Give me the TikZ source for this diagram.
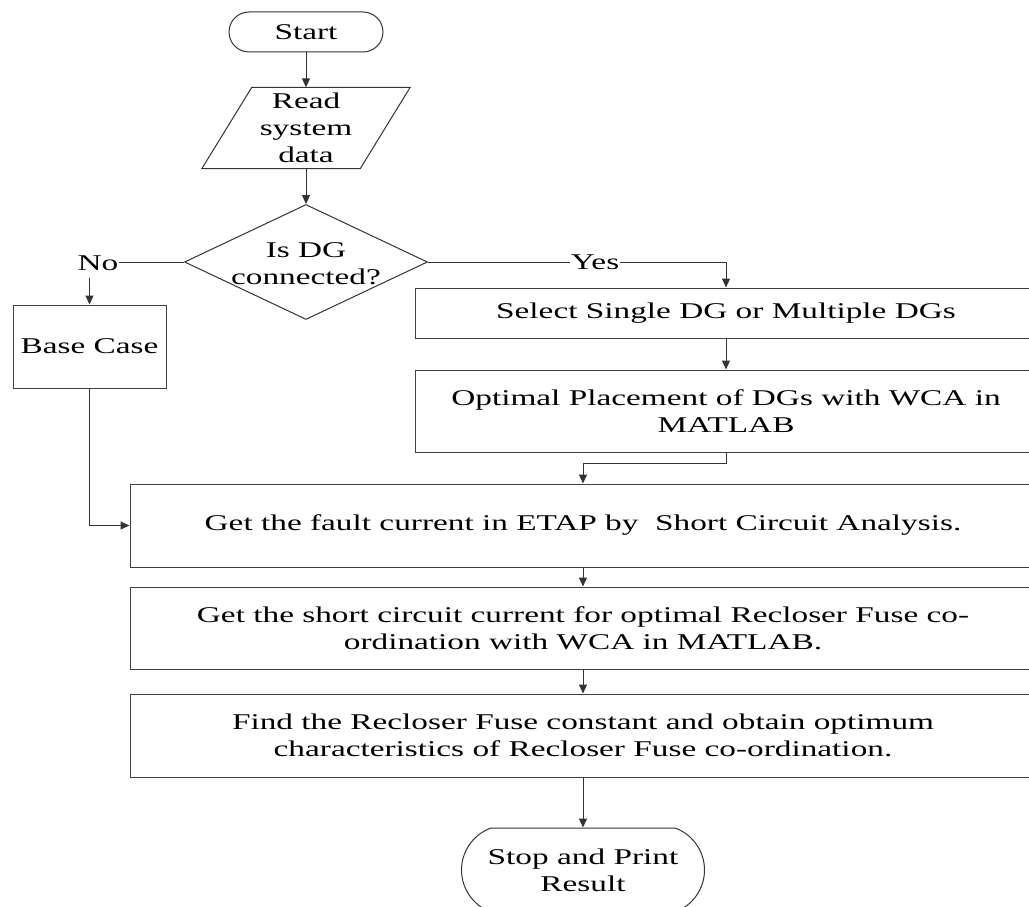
\documentclass[tikz,border=0pt]{standalone}
\usepackage{fontspec}
\setmainfont{Liberation Serif}[FakeStretch=1.48]
\usetikzlibrary{shapes.geometric,shapes.misc,arrows.meta}
\begin{document}
\begin{tikzpicture}[x=1pt,y=-1pt,
  every node/.style={font=\fontsize{22.5}{27}\selectfont, text=black},
  line/.style={draw=black!80, line width=1pt},
  arrow/.style={line, -{Triangle[length=9pt,width=8pt]}},
  procbox/.style={rectangle, draw=black!75, line width=1pt, inner sep=0pt, align=center},
  term/.style={rounded rectangle, draw=black!80, line width=1pt, inner sep=0pt, align=center},
  txt/.style={align=center, inner sep=0pt}]
\useasboundingbox (0,0) rectangle (1029,907);

% terminals, input and decision
\node[term, minimum width=154, minimum height=40] (start) at (306,32) {Start};
\node[txt, minimum width=158, minimum height=81] (read) at (306,128) {Read\\system\\data};
\draw[line, line join=miter]
  ([xshift=-25pt]read.south west) -- ([xshift=25pt]read.north west) --
  ([xshift=25pt]read.north east) -- ([xshift=-25pt]read.south east) -- cycle;
\node[diamond, draw=black!80, line width=1pt, inner sep=0pt,
      minimum width=243, minimum height=115] (dgbox) at (306,262) {};
\node[txt] (dgq) at (306,264) {Is DG\\connected?};

% branch labels
\node[txt] (no) at (98,263) {No};
\node[txt, inner xsep=1pt] (yes) at (595,262) {Yes};

% process boxes
\node[procbox, minimum width=153, minimum height=83] (base) at (89.5,346.5) {Base Case};
\node[procbox, minimum width=622, minimum height=50] (sel) at (726,313) {Select Single DG or Multiple DGs};
\node[procbox, minimum width=622, minimum height=82] (opt) at (726,411) {Optimal Placement of DGs with WCA in\\MATLAB};
\node[procbox, minimum width=906, minimum height=83] (fault) at (583,525.5) {Get the fault current in ETAP by\ \ Short Circuit Analysis.};
\node[procbox, minimum width=906, minimum height=82] (sc) at (583,628) {Get the short circuit current for optimal Recloser Fuse co-\\ordination with WCA in MATLAB.};
\node[procbox, minimum width=906, minimum height=83] (find) at (583,735.5) {Find the Recloser Fuse constant and obtain optimum\\characteristics of Recloser Fuse co-ordination.};
\node[term, rounded rectangle arc length=140, minimum width=243, minimum height=84] (stop) at (583,870) {Stop and Print\\Result};

% connectors
\draw[arrow] (start.south) -- (read.north);
\draw[arrow] (read.south) -- (dgbox.north);
\draw[line] (dgbox.west) -- (dgbox.west -| no.east);
\coordinate (nodrop) at ([yshift=-7pt]no.south);
\draw[arrow] (nodrop -| base.north) -- (base.north);
\draw[line] (dgbox.east) -- (yes.west);
\draw[arrow] (yes.east) -| (sel.north);
\draw[arrow] (sel.south) -- (opt.north);
\draw[arrow] (opt.south) -- ++(0,11) -| (fault.north);
\draw[arrow] (base.south) |- (fault.west);
\draw[arrow] (fault.south) -- (sc.north);
\draw[arrow] (sc.south) -- (find.north);
\draw[arrow] (find.south) -- (stop.north);
\end{tikzpicture}
\end{document}
